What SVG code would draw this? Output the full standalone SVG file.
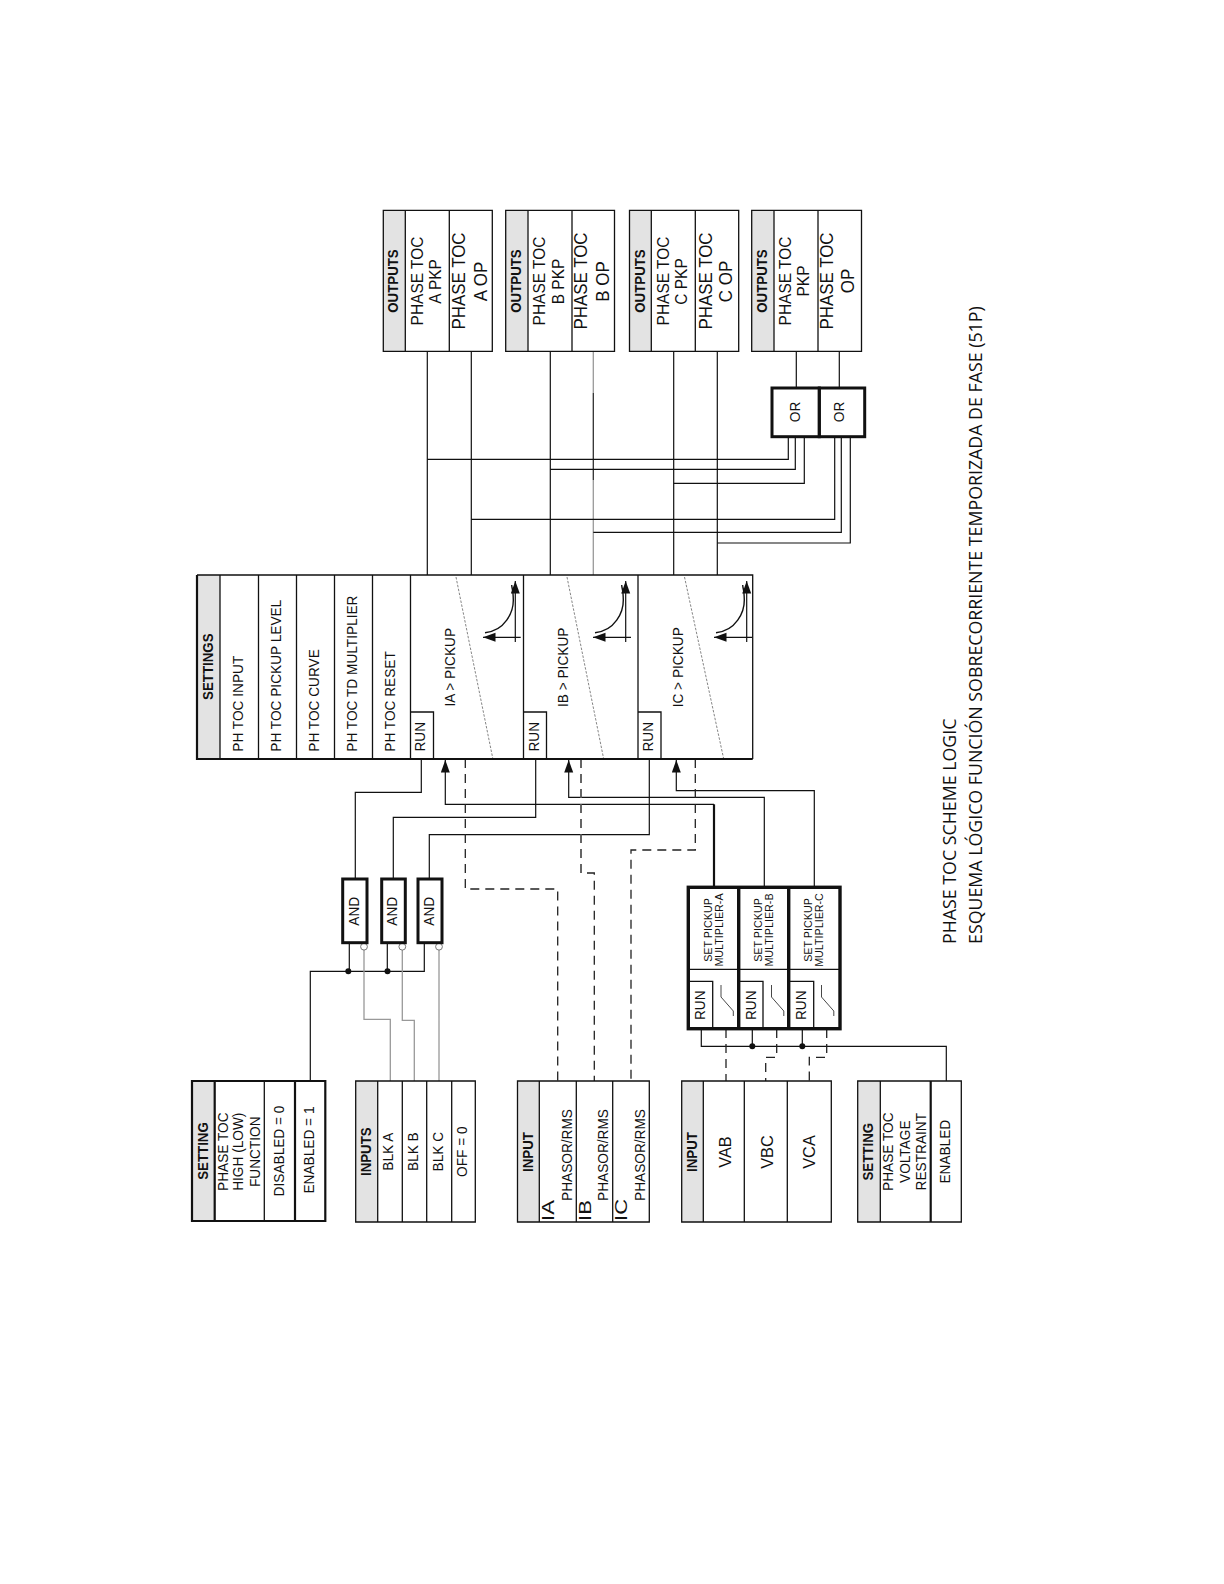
<svg xmlns="http://www.w3.org/2000/svg" width="1224" height="1584" viewBox="0 0 1224 1584">
<style>
text{font-family:"Liberation Sans",Arial,sans-serif;fill:#111;text-anchor:middle;font-size:14.4px}
.b{font-weight:bold;font-size:14px}
.box{fill:#fff;stroke:#111;stroke-width:1.3}
.thick{fill:none;stroke:#111;stroke-width:3}
.hd{fill:#e3e3e3;stroke:none}
.w{fill:none;stroke:#111;stroke-width:1.2}
.tk{fill:none;stroke:#111;stroke-width:2.2}
.g{fill:none;stroke:#999;stroke-width:1.3}
.da{fill:none;stroke:#222;stroke-width:1.3;stroke-dasharray:9 6}
.dg{fill:none;stroke:#666;stroke-width:.8;stroke-dasharray:2.5 1.5}
.dot{fill:#111}
.bub{fill:#fff;stroke:#777;stroke-width:1}
.s{font-size:11.3px}
.m{font-size:17.2px}
.l{font-size:16px;text-anchor:start}
.st{text-anchor:start}
.t{font-family:"Open Sans","Noto Sans",sans-serif;font-size:17.8px;text-anchor:start}
.o1{font-size:16.3px}
.o2{font-size:17.8px}
</style>
<defs>
<marker id="ah" markerUnits="userSpaceOnUse" markerWidth="13" markerHeight="10" refX="12.5" refY="4.5" orient="auto"><path d="M0 0L12.5 4.5L0 9z" fill="#111"/></marker>
</defs>

<g id="connectors">
<path class="w" d="M427.3 351V575M471.3 351V575M550.3 351V575M673.7 351V575M717.3 351V575M796.3 351V388M839.3 351V388"/>
<path class="g" d="M593.3 351V575"/>
<path class="w" style="stroke-width:.9" d="M593.3 393V480"/>
<path class="w" d="M427.3 459.3H788.3V437M550.3 469.3H795.3V437M673.7 483.3H804.3V437M471.3 519.3H834.7V437M593.3 532.3H841.3V437M717.3 543H850.3V437"/>
<path class="w" d="M421.3 759V792.3H355.3V879M535.7 759V817.3H393.3V879M649.3 759V834.7H429.3V879"/>
<path class="w" marker-end="url(#ah)" d="M714 804.3H445.3V760"/>
<path class="tk" d="M714 804.3V887"/>
<path class="w" marker-end="url(#ah)" d="M764.3 887V797.3H568.7V760"/>
<path class="w" marker-end="url(#ah)" d="M814.3 887V790.7H676.3V760"/>
<path class="da" d="M465.3 759V889H557.7V1081"/>
<path class="da" style="stroke:#555;stroke-width:1.8" d="M581 759V873H587"/>
<path class="da" d="M587 873H594.3V1081"/>
<path class="da" d="M695.3 759V850H631V1081"/>
<path class="w" d="M349.3 943V971.3M387.3 943V971.3M424.3 943V971.3H310.3V1081"/>
<circle class="dot" cx="348.3" cy="971.3" r="3"/><circle class="dot" cx="387.5" cy="971.3" r="3"/>
<path class="g" d="M364 950V1019.3H390.3V1081M402.3 950V1020.3H414.3V1081M439 950V1081"/>
<circle class="bub" cx="364" cy="946.7" r="3.4"/><circle class="bub" cx="402.3" cy="946.7" r="3.4"/><circle class="bub" cx="439" cy="946.7" r="3.4"/>
<path class="w" d="M701.3 1029V1046.3H946.3V1081M752.3 1029V1046.3M802.3 1029V1046.3"/>
<circle class="dot" cx="752.3" cy="1046.3" r="3"/><circle class="dot" cx="802.3" cy="1046.3" r="3"/>
<path class="da" d="M726 1029V1081"/>
<path class="da" d="M776.7 1029V1057.3H765.7V1081"/>
<path class="da" d="M826.7 1029V1057.3H809.3V1081"/>
</g>

<g id="outputs-a">
<rect class="hd" x="383.3" y="210.3" width="22" height="141"/>
<path class="box" style="fill:none" d="M383.3 210.3H492.3V351.3H383.3zM405.3 210.3V351.3M449.3 210.3V351.3"/>
<text class="b" transform="translate(398.3,281) rotate(-90) scale(.95,1)">OUTPUTS</text>
<text class="o1" transform="translate(422.7,281) rotate(-90) scale(.95,1)">PHASE TOC</text>
<text class="o1" transform="translate(441,281.5) rotate(-90) scale(.95,1)">A PKP</text>
<text class="o2" transform="translate(465,281) rotate(-90) scale(.95,1)">PHASE TOC</text>
<text class="o2" transform="translate(486.7,281.5) rotate(-90) scale(.95,1)">A OP</text>
</g>
<g id="outputs-b">
<rect class="hd" x="505.7" y="210.3" width="22" height="141"/>
<path class="box" style="fill:none" d="M505.7 210.3H614.5V351.3H505.7zM528 210.3V351.3M572 210.3V351.3"/>
<text class="b" transform="translate(520.7,281) rotate(-90) scale(.95,1)">OUTPUTS</text>
<text class="o1" transform="translate(545,281) rotate(-90) scale(.95,1)">PHASE TOC</text>
<text class="o1" transform="translate(564,281.5) rotate(-90) scale(.95,1)">B PKP</text>
<text class="o2" transform="translate(587.3,281) rotate(-90) scale(.95,1)">PHASE TOC</text>
<text class="o2" transform="translate(609,281.5) rotate(-90) scale(.95,1)">B OP</text>
</g>
<g id="outputs-c">
<rect class="hd" x="629.5" y="210.3" width="22" height="141"/>
<path class="box" style="fill:none" d="M629.5 210.3H738.7V351.3H629.5zM651.3 210.3V351.3M695.3 210.3V351.3"/>
<text class="b" transform="translate(645,281) rotate(-90) scale(.95,1)">OUTPUTS</text>
<text class="o1" transform="translate(669,281) rotate(-90) scale(.95,1)">PHASE TOC</text>
<text class="o1" transform="translate(686.7,281.5) rotate(-90) scale(.95,1)">C PKP</text>
<text class="o2" transform="translate(711.7,281) rotate(-90) scale(.95,1)">PHASE TOC</text>
<text class="o2" transform="translate(731.7,281.5) rotate(-90) scale(.95,1)">C OP</text>
</g>
<g id="outputs-d">
<rect class="hd" x="751.7" y="210.3" width="22" height="141"/>
<path class="box" style="fill:none" d="M751.7 210.3H861.5V351.3H751.7zM774 210.3V351.3M818 210.3V351.3"/>
<text class="b" transform="translate(767.3,281) rotate(-90) scale(.95,1)">OUTPUTS</text>
<text class="o1" transform="translate(791,281) rotate(-90) scale(.95,1)">PHASE TOC</text>
<text class="o1" transform="translate(809.3,281) rotate(-90) scale(.95,1)">PKP</text>
<text class="o2" transform="translate(833.3,281) rotate(-90) scale(.95,1)">PHASE TOC</text>
<text class="o2" transform="translate(854,281) rotate(-90) scale(.95,1)">OP</text>
</g>
<g id="or-1">
<rect class="thick" x="772" y="388" width="47.3" height="48.7"/>
<text transform="translate(800,412) rotate(-90) scale(.95,1)">OR</text>
</g>
<g id="or-2">
<rect class="thick" x="819.3" y="388" width="45.4" height="48.7"/>
<text transform="translate(844.3,412) rotate(-90) scale(.95,1)">OR</text>
</g>

<g id="settings">
<rect class="hd" x="197" y="575" width="23" height="184"/>
<path class="box" style="fill:none" d="M197 575H752.7V759M220 575V759M258.5 575V759M296.5 575V759M334.5 575V759M372.5 575V759M410.5 575V759M523.5 575V759M638 575V759"/>
<path class="tk" d="M197 575V759H752.7"/>
<path class="box" style="fill:none" d="M410.5 712H433.5V759M523.5 712H546.5V759M638 712H661V759"/>
<text class="b" transform="translate(212.7,666.7) rotate(-90) scale(.95,1)">SETTINGS</text>
<text class="st" transform="translate(242.7,751.7) rotate(-90) scale(.95,1)">PH TOC INPUT</text>
<text class="st" transform="translate(280.7,751.7) rotate(-90) scale(.95,1)">PH TOC PICKUP LEVEL</text>
<text class="st" transform="translate(318.7,751.7) rotate(-90) scale(.95,1)">PH TOC CURVE</text>
<text class="st" transform="translate(357.3,751.7) rotate(-90) scale(.95,1)">PH TOC TD MULTIPLIER</text>
<text class="st" transform="translate(395.3,751.7) rotate(-90) scale(.95,1)">PH TOC RESET</text>
<text transform="translate(425.3,736.7) rotate(-90) scale(.95,1)">RUN</text>
<text transform="translate(538.7,736.7) rotate(-90) scale(.95,1)">RUN</text>
<text transform="translate(653.3,736.7) rotate(-90) scale(.95,1)">RUN</text>
<text transform="translate(455,667.3) rotate(-90) scale(.95,1)">IA &gt; PICKUP</text>
<text transform="translate(568.3,667.3) rotate(-90) scale(.95,1)">IB &gt; PICKUP</text>
<text transform="translate(682.7,667.3) rotate(-90) scale(.95,1)">IC &gt; PICKUP</text>
<path class="dg" d="M456 577L492.7 758M567 577L603.5 758M684.5 577L723.5 758"/>
<g id="curve-a">
<path class="w" marker-end="url(#ah)" d="M520.7 637.3H483"/><path class="w" marker-end="url(#ah)" d="M515.3 642V581"/>
<path class="w" style="stroke-width:1.4" d="M485 632.7C505 631 513.5 612 513.3 600S512 590 511.7 585"/>
</g>
<g id="curve-b">
<path class="w" marker-end="url(#ah)" d="M631 637.3H593"/><path class="w" marker-end="url(#ah)" d="M625.7 642V581"/>
<path class="w" style="stroke-width:1.4" d="M595 632.7C615 631 623.5 612 623.3 600S622 590 621.7 585"/>
</g>
<g id="curve-c">
<path class="w" marker-end="url(#ah)" d="M752 637.3H714"/><path class="w" marker-end="url(#ah)" d="M746.7 642V581"/>
<path class="w" style="stroke-width:1.4" d="M716 632.7C736 631 744.5 612 744.3 600S743 590 742.7 585"/>
</g>
</g>

<g id="and-a"><rect class="thick" x="342.7" y="879" width="24.3" height="63.7"/><text transform="translate(359,911.3) rotate(-90) scale(.95,1)">AND</text></g>
<g id="and-b"><rect class="thick" x="381.7" y="879" width="23.6" height="63.7"/><text transform="translate(396.7,911.3) rotate(-90) scale(.95,1)">AND</text></g>
<g id="and-c"><rect class="thick" x="418" y="879" width="24" height="63.7"/><text transform="translate(434,911.3) rotate(-90) scale(.95,1)">AND</text></g>

<g id="multiplier">
<rect class="thick" style="stroke-width:3.4" x="688.3" y="887.3" width="151.7" height="141.4"/>
<path class="thick" style="stroke-width:3.4" d="M738.7 887.3V1028.7M788.7 887.3V1028.7"/>
<path class="box" style="fill:none" d="M688.3 969.3H840M688.3 981.3H712.7V1028M739 981.3H763V1028M789 981.3H813.7V1028"/>
<path class="w" style="stroke-width:.9;stroke:#333" d="M721 985V997L733.3 1011V1016M771.5 985V997L783.8 1011V1016M821.5 985V997L833.8 1011V1016"/>
<text class="s" transform="translate(711.7,930) rotate(-90) scale(.95,1)">SET PICKUP</text>
<text class="s" transform="translate(722.7,930) rotate(-90) scale(.95,1)">MULTIPLIER-A</text>
<text class="s" transform="translate(762.2,930) rotate(-90) scale(.95,1)">SET PICKUP</text>
<text class="s" transform="translate(773.2,930) rotate(-90) scale(.95,1)">MULTIPLIER-B</text>
<text class="s" transform="translate(812.2,930) rotate(-90) scale(.95,1)">SET PICKUP</text>
<text class="s" transform="translate(823.2,930) rotate(-90) scale(.95,1)">MULTIPLIER-C</text>
<text transform="translate(705,1005.3) rotate(-90) scale(.95,1)">RUN</text>
<text transform="translate(755.7,1005.3) rotate(-90) scale(.95,1)">RUN</text>
<text transform="translate(805.7,1005.3) rotate(-90) scale(.95,1)">RUN</text>
</g>

<g id="setting-function">
<rect class="hd" x="192" y="1081" width="22.7" height="140"/>
<path class="tk" d="M192 1081H325.3V1221H192zM214.7 1081V1221M295 1081V1221"/>
<path class="box" d="M264.3 1081V1221"/>
<text class="b" transform="translate(208,1151) rotate(-90) scale(.95,1)">SETTING</text>
<text transform="translate(228.3,1151.7) rotate(-90) scale(.95,1)">PHASE TOC</text>
<text transform="translate(243.3,1151.7) rotate(-90) scale(.95,1)">HIGH (LOW)</text>
<text transform="translate(260,1151.7) rotate(-90) scale(.95,1)">FUNCTION</text>
<text transform="translate(284,1151) rotate(-90) scale(.95,1)">DISABLED = 0</text>
<text transform="translate(314,1150) rotate(-90) scale(.95,1)">ENABLED = 1</text>
</g>
<g id="inputs-blk">
<rect class="hd" x="355.7" y="1081" width="22" height="141"/>
<path class="box" style="fill:none" d="M355.7 1081H475.3V1222H355.7zM377.7 1081V1222M402.3 1081V1222M426.7 1081V1222M451.7 1081V1222"/>
<text class="b" transform="translate(371.3,1151.7) rotate(-90) scale(.95,1)">INPUTS</text>
<text transform="translate(393.3,1151.7) rotate(-90) scale(.95,1)">BLK A</text>
<text transform="translate(418.3,1151.7) rotate(-90) scale(.95,1)">BLK B</text>
<text transform="translate(443.3,1151.7) rotate(-90) scale(.95,1)">BLK C</text>
<text transform="translate(466.7,1151.7) rotate(-90) scale(.95,1)">OFF = 0</text>
</g>
<g id="input-current">
<rect class="hd" x="517.5" y="1081" width="22" height="141"/>
<path class="box" style="fill:none" d="M517.5 1081H649.3V1222H517.5zM539.3 1081V1222M576.3 1081V1222M612.7 1081V1222"/>
<text class="b" transform="translate(533.3,1152) rotate(-90) scale(.95,1)">INPUT</text>
<text class="l" transform="translate(554,1221) rotate(-90) scale(1.38,1)">IA</text>
<text class="l" transform="translate(590.7,1221) rotate(-90) scale(1.38,1)">IB</text>
<text class="l" transform="translate(627.3,1221) rotate(-90) scale(1.38,1)">IC</text>
<text transform="translate(571.7,1155) rotate(-90) scale(.95,1)">PHASOR/RMS</text>
<text transform="translate(608.3,1155) rotate(-90) scale(.95,1)">PHASOR/RMS</text>
<text transform="translate(645,1155) rotate(-90) scale(.95,1)">PHASOR/RMS</text>
</g>
<g id="input-voltage">
<rect class="hd" x="681.7" y="1081" width="21.6" height="141"/>
<path class="box" style="fill:none" d="M681.7 1081H831.3V1222H681.7zM703.3 1081V1222M744.3 1081V1222M787.3 1081V1222"/>
<text class="b" transform="translate(696.7,1152) rotate(-90) scale(.95,1)">INPUT</text>
<text class="m" transform="translate(730.7,1152) rotate(-90) scale(.95,1)">VAB</text>
<text class="m" transform="translate(772.7,1152) rotate(-90) scale(.95,1)">VBC</text>
<text class="m" transform="translate(815,1152) rotate(-90) scale(.95,1)">VCA</text>
</g>
<g id="setting-restraint">
<rect class="hd" x="857.7" y="1081" width="22.6" height="141"/>
<path class="box" style="fill:none" d="M857.7 1081H961.3V1222H857.7zM880.3 1081V1222"/>
<path class="tk" d="M930.7 1081V1222"/>
<text class="b" transform="translate(872.7,1151.7) rotate(-90) scale(.95,1)">SETTING</text>
<text transform="translate(893.3,1151.7) rotate(-90) scale(.95,1)">PHASE TOC</text>
<text transform="translate(910,1151.7) rotate(-90) scale(.95,1)">VOLTAGE</text>
<text transform="translate(926,1151.7) rotate(-90) scale(.95,1)">RESTRAINT</text>
<text transform="translate(950,1151.7) rotate(-90) scale(.95,1)">ENABLED</text>
</g>
<g id="title">
<text class="t" transform="translate(956,944) rotate(-90)">PHASE TOC SCHEME LOGIC</text>
<text class="t" transform="translate(981.7,944) rotate(-90)">ESQUEMA LÓGICO FUNCIÓN SOBRECORRIENTE TEMPORIZADA DE FASE (51P)</text>
</g>
</svg>
